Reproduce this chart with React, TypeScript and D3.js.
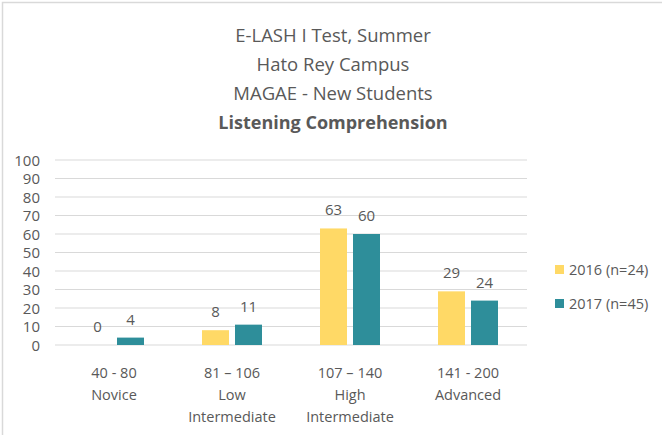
import React from "react";
import * as d3 from "d3";

const categories = ["40 - 80|Novice", "81 – 106|Low|Intermediate", "107 – 140|High|Intermediate", "141 - 200|Advanced"];
const series = ["2016 (n=24)", "2017 (n=45)"];
const values2016 = [0, 8, 63, 29];
const values2017 = [4, 11, 60, 24];
const yTicks = [0, 10, 20, 30, 40, 50, 60, 70, 80, 90, 100];
const titleLines = ["E-LASH I Test, Summer", "Hato Rey Campus", "MAGAE - New Students"];
const titleBold = "Listening Comprehension";

const colors = ["#FFD966", "#2E8E9A"];
const textColor = "#595959";
const font = "'Open Sans', 'Noto Sans', sans-serif";

export default function App() {
  const width = 662,
    height = 435;
  const plot = { left: 55, right: 527, top: 160, bottom: 345 };

  const x = d3
    .scaleBand()
    .domain(categories)
    .range([plot.left, plot.right]);
  const y = d3
    .scaleLinear()
    .domain([0, 100])
    .range([plot.bottom, plot.top]);
  const barW = 27,
    gap = 6;
  const data = [values2016, values2017];

  return (
    <div style={{ position: "fixed", left: 0, top: 0, width, height, background: "#fff" }}>
      <svg width={width} height={height} style={{ display: "block", fontFamily: font }}>
        <rect x={2.5} y={2.5} width={width + 10} height={height + 10} fill="#fff" stroke="#D9D9D9" strokeWidth={1.5} />

        {titleLines.map((t, i) => (
          <text key={t} x={333} y={42 + i * 29} textAnchor="middle" fontSize={18.5} fill={textColor}>
            {t}
          </text>
        ))}
        <text x={333} y={129} textAnchor="middle" fontSize={18} fontWeight="bold" fill={textColor}>
          {titleBold}
        </text>

        {yTicks.map(t => (
          <g key={t}>
            <line x1={plot.left} x2={plot.right} y1={y(t)} y2={y(t)} stroke="#D9D9D9" strokeWidth={1} />
            <text x={40} y={y(t) + 5.5} textAnchor="end" fontSize={15} fill={textColor}>
              {t}
            </text>
          </g>
        ))}

        {categories.map((c, ci) => {
          const cx = (x(c) as number) + x.bandwidth() / 2;
          return (
            <g key={c}>
              {data.map((vals, si) => {
                const bx = si === 0 ? cx - gap / 2 - barW : cx + gap / 2;
                const v = vals[ci];
                return (
                  <g key={si}>
                    <rect x={bx} y={y(v)} width={barW} height={y(0) - y(v)} fill={colors[si]} />
                    <text x={bx + barW / 2} y={y(v) - 13} textAnchor="middle" fontSize={15} fill={textColor}>
                      {v}
                    </text>
                  </g>
                );
              })}
              {c.split("|").map((line, li) => (
                <text key={li} x={cx} y={378 + li * 22} textAnchor="middle" fontSize={14.5} fill={textColor}>
                  {line}
                </text>
              ))}
            </g>
          );
        })}

        {series.map((s, i) => (
          <g key={s}>
            <rect x={555} y={265 + i * 34} width={9} height={9} fill={colors[i]} />
            <text x={569} y={275 + i * 34} fontSize={14.5} fill={textColor}>
              {s}
            </text>
          </g>
        ))}
      </svg>
    </div>
  );
}
